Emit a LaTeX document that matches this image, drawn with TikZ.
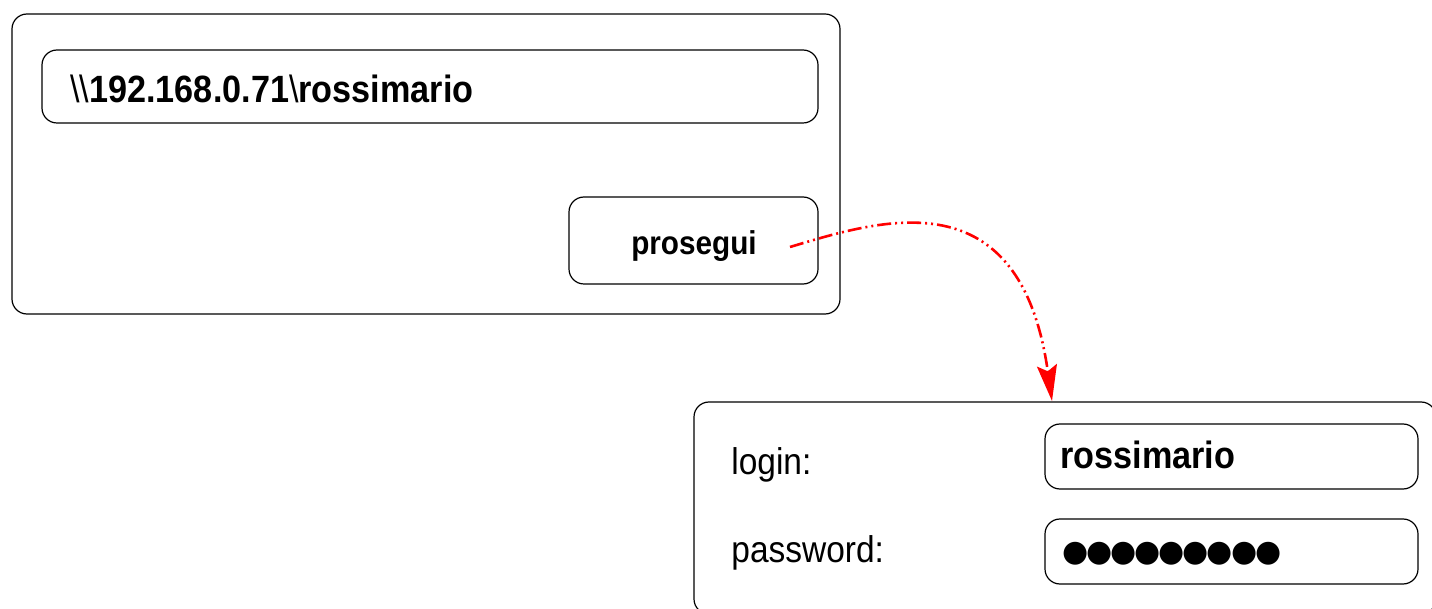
\documentclass[tikz,border=0pt]{standalone}
\usepackage{fontspec}
\setmainfont{Liberation Sans}[FakeStretch=0.9]
\newfontfamily\dotfont{DejaVu Sans}[LetterSpace=-7]
\usetikzlibrary{arrows.meta}
\tikzset{
  box/.style={draw=black, line width=0.6pt, rounded corners=7.5pt, minimum width=#1, inner sep=0pt},
  txt/.style={inner sep=0pt, anchor=base west},
  link/.style={draw=red, line width=1.3pt, dash pattern=on 7pt off 2pt on 1pt off 2pt on 1pt off 2pt,
    -{Stealth[length=18pt, width=10pt, inset=3pt]}},
}
\begin{document}
\begin{tikzpicture}[x=0.5pt, y=-0.5pt]
\useasboundingbox (0,0) rectangle (1432,609);
% window 1
\node[box=414pt, minimum height=150pt] (win) at (426,164) {};
\node[box=388pt, minimum height=36.5pt] (addr) at (430,86.5) {};
\node[txt] (addrtxt) at (70,103) {\fontsize{19pt}{22pt}\selectfont\textbackslash\textbackslash\textbf{192.168.0.71}\textbackslash\textbf{rossimario}};
\node[box=124.5pt, minimum height=43.5pt] (btn) at (693.5,240.5) {};
\node[inner sep=0pt, anchor=base] (btntxt) at (694,255) {\fontsize{16.5pt}{19pt}\selectfont\textbf{prosegui}};
% login panel
\node[box=371pt, minimum height=106pt] (panel) at (1065,508) {};
\node[txt] (login) at (731,475) {\fontsize{18.6pt}{22pt}\selectfont login:};
\node[txt] (pwd) at (731,563) {\fontsize{18.6pt}{22pt}\selectfont password:};
\node[box=186.5pt, minimum height=32.5pt] (userf) at (1231.5,456.5) {};
\node[box=186.5pt, minimum height=32.5pt] (pwdf) at (1231.5,551.5) {};
\node[txt] (usertxt) at (1060,469) {\fontsize{19pt}{22pt}\selectfont\textbf{rossimario}};
\node[txt] (pwdtxt) at (1062,562) {\dotfont\fontsize{15pt}{18pt}\selectfont ●●●●●●●●●};
% connector
\coordinate (s) at (790,247);
\coordinate (e) at (1052,401);
\draw[link] (s) .. controls (880,220) and (1020,175) .. (e);
\end{tikzpicture}
\end{document}
